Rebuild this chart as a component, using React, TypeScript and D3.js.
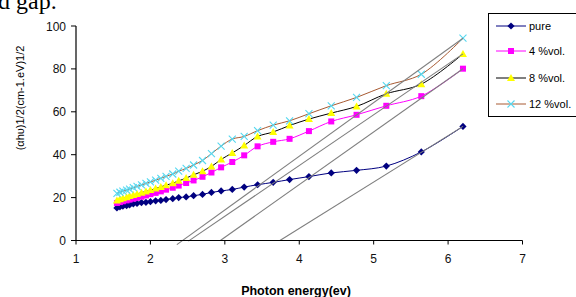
import React from 'react';
import * as d3 from 'd3';

// photon energies (eV) shared by all four series
const energy = [
  1.55, 1.59, 1.63, 1.68, 1.72, 1.77, 1.82, 1.88, 1.94, 2.0, 2.07, 2.14, 2.21, 2.3, 2.38, 2.48,
  2.58, 2.7, 2.82, 2.95, 3.1, 3.26, 3.44, 3.65, 3.87, 4.13, 4.43, 4.77, 5.17, 5.64, 6.2,
];

const pure = [
  15.2, 15.7, 16.0, 16.3, 16.6, 17.1, 17.3, 17.7, 17.8, 18.1, 18.5, 18.7, 19.1, 19.5, 20.0, 20.3,
  20.9, 21.5, 22.4, 23.1, 23.8, 24.9, 26.0, 27.1, 28.4, 29.8, 31.5, 32.7, 34.7, 41.3, 53.2,
];
const vol4 = [
  17.5, 17.9, 18.3, 18.7, 19.1, 19.5, 19.9, 20.4, 21.0, 21.6, 22.2, 22.9, 23.7, 24.6, 25.6, 26.8,
  28.0, 29.7, 31.7, 34.1, 36.6, 39.7, 43.9, 46.0, 47.4, 51.0, 55.5, 58.6, 62.8, 67.3, 80.1,
];
const vol8 = [
  18.7, 19.2, 19.7, 20.2, 20.7, 21.2, 21.7, 22.3, 22.9, 23.5, 24.2, 25.0, 25.8, 26.7, 27.8, 29.1,
  30.6, 32.3, 34.5, 37.8, 40.8, 44.3, 48.5, 50.6, 53.6, 56.6, 59.4, 62.5, 68.4, 72.9, 87.0,
];
const vol12 = [
  22.0, 22.5, 23.0, 23.5, 24.0, 24.6, 25.2, 25.9, 26.6, 27.3, 28.1, 29.0, 29.9, 31.0, 32.3, 33.6,
  35.2, 37.3, 40.5, 44.0, 47.3, 48.5, 51.2, 53.8, 55.8, 59.1, 62.8, 66.7, 72.2, 77.5, 94.3,
];

// extrapolated tangent lines [x1, y1, x2, y2]
const tangents = [
  [2.355, -1.9, 6.2, 94.3],
  [2.51, -0.3, 6.2, 87.0],
  [2.94, 0, 6.2, 80.1],
  [3.74, 0, 6.2, 53.2],
];

const xTicks = [1, 2, 3, 4, 5, 6, 7];
const yTicks = [0, 20, 40, 60, 80, 100];

type Marker = 'diamond' | 'square' | 'triangle' | 'cross';

const series: { name: string; values: number[]; line: string; fill: string; marker: Marker }[] = [
  { name: 'pure', values: pure, line: '#000080', fill: '#000080', marker: 'diamond' },
  { name: '4 %vol.', values: vol4, line: '#ff00ff', fill: '#ff00ff', marker: 'square' },
  { name: '8 %vol.', values: vol8, line: '#000000', fill: '#ffff00', marker: 'triangle' },
  { name: '12 %vol.', values: vol12, line: '#a85a32', fill: '#55d8f0', marker: 'cross' },
];

const font = '"Liberation Sans", Arial, sans-serif';

function MarkerShape({ type, x, y, fill }: { type: Marker; x: number; y: number; fill: string }) {
  if (type === 'diamond') {
    return <path d={`M${x},${y - 3.6}L${x + 3.6},${y}L${x},${y + 3.6}L${x - 3.6},${y}Z`} fill={fill} />;
  }
  if (type === 'square') {
    return <rect x={x - 3} y={y - 3} width={6} height={6} fill={fill} />;
  }
  if (type === 'triangle') {
    return <path d={`M${x},${y - 4}L${x + 4},${y + 3}L${x - 4},${y + 3}Z`} fill={fill} />;
  }
  return (
    <path
      d={`M${x - 3.5},${y - 3.5}L${x + 3.5},${y + 3.5}M${x - 3.5},${y + 3.5}L${x + 3.5},${y - 3.5}`}
      stroke={fill}
      strokeWidth={1.1}
      fill="none"
    />
  );
}

export default function App() {
  const width = 576;
  const height = 297;

  const x = d3.scaleLinear().domain([1, 7]).range([76, 522.5]);
  const y = d3.scaleLinear().domain([0, 100]).range([240.5, 26]);

  const line = d3
    .line<number>()
    .x((_, i) => x(energy[i]))
    .y(d => y(d))
    .curve(d3.curveCatmullRom.alpha(0.5));

  return (
    <svg
      width={width}
      height={height}
      style={{ position: 'absolute', left: 0, top: 0, background: '#fff' }}
      fontFamily={font}
    >
      <rect width={width} height={height} fill="#fff" />
      <text x={-2} y={9} fontFamily='"Liberation Serif", "Times New Roman", serif' fontSize={24} fill="#000">
        d gap.
      </text>

      {/* data */}
      {series.map(s => (
        <g key={s.name}>
          <path d={line(s.values) || ''} fill="none" stroke={s.line} strokeWidth={1} />
          {s.values.map((v, i) => (
            <MarkerShape key={i} type={s.marker} x={x(energy[i])} y={y(v)} fill={s.fill} />
          ))}
        </g>
      ))}

      {/* tangents */}
      {tangents.map((t, i) => (
        <line key={i} x1={x(t[0])} y1={y(t[1])} x2={x(t[2])} y2={y(t[3])} stroke="#7f7f7f" strokeWidth={1.1} />
      ))}

      {/* axes */}
      <line x1={x(1)} x2={x(1)} y1={y(0)} y2={y(100)} stroke="#000" strokeWidth={1.2} />
      <line x1={x(1)} x2={x(7)} y1={y(0)} y2={y(0)} stroke="#000" strokeWidth={1.2} />
      {yTicks.map(t => (
        <g key={t}>
          <line x1={x(1) - 5} x2={x(1)} y1={y(t)} y2={y(t)} stroke="#000" />
          <text x={x(1) - 10} y={y(t) + 4.5} textAnchor="end" fontSize={12} fill="#111">
            {t}
          </text>
        </g>
      ))}
      {xTicks.map(t => (
        <g key={t}>
          <line x1={x(t)} x2={x(t)} y1={y(0)} y2={y(0) + 4} stroke="#000" />
          <text x={x(t)} y={263} textAnchor="middle" fontSize={12} fill="#111">
            {t}
          </text>
        </g>
      ))}

      <text x={296} y={295} textAnchor="middle" fontSize={12.5} fontWeight="bold" fill="#000">
        Photon energy(ev)
      </text>
      <text transform="translate(24,98) rotate(-90)" textAnchor="middle" fontSize={11} fill="#000">
        (αhυ)1/2(cm-1.eV)1/2
      </text>

      {/* legend */}
      <rect x={488.5} y={13.5} width={100} height={103} fill="#fff" stroke="#000" strokeWidth={1} />
      {series.map((s, i) => {
        const ly = [26, 51, 78, 104][i];
        return (
          <g key={s.name}>
            <line x1={496} x2={526} y1={ly} y2={ly} stroke={s.line} strokeWidth={1} />
            <MarkerShape type={s.marker} x={511} y={ly} fill={s.fill} />
            <text x={529} y={ly + 4} fontSize={11} fill="#000">
              {s.name}
            </text>
          </g>
        );
      })}
    </svg>
  );
}
